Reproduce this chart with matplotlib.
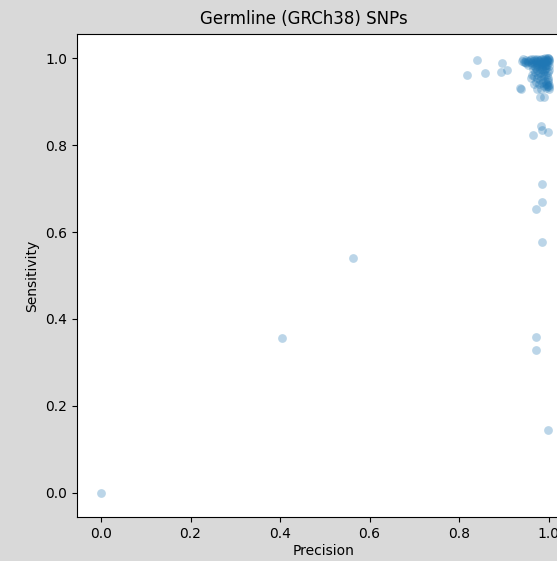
import matplotlib
matplotlib.use("Agg")
import matplotlib.pyplot as plt

# (precision, sensitivity) per submission
outlier_precision = [0.0, 0.404, 0.563, 0.818, 0.840, 0.858, 0.896, 0.894, 0.907, 0.936,
                     0.965, 0.983, 0.985, 0.998, 0.985, 0.985, 0.971, 0.985, 0.971, 0.971,
                     0.998, 0.981, 0.990, 0.938]
outlier_sensitivity = [0.0, 0.357, 0.541, 0.961, 0.995, 0.965, 0.988, 0.968, 0.972, 0.931,
                       0.823, 0.845, 0.834, 0.830, 0.711, 0.670, 0.654, 0.578, 0.359, 0.329,
                       0.144, 0.911, 0.911, 0.930]

band_precision = [0.940, 0.945, 0.950, 0.950, 0.955, 0.960, 0.960, 0.965, 0.968, 0.970,
                  0.972, 0.975, 0.978, 0.980, 0.982, 0.985, 0.987, 0.990, 0.992, 0.994,
                  0.996, 0.998, 1.000, 1.000, 0.999, 0.997, 0.993, 0.988, 0.983, 0.975,
                  0.962, 0.955, 0.943, 0.948, 0.953, 0.958, 0.963, 0.967, 0.971, 0.974,
                  0.977, 0.981, 0.984, 0.986, 0.989, 0.991, 0.995, 0.997, 1.000, 0.999]
band_sensitivity = [0.993, 0.990, 0.995, 0.988, 0.993, 0.990, 0.997, 0.994, 0.988, 0.996,
                    0.991, 0.998, 0.993, 0.987, 0.996, 0.991, 0.999, 0.995, 0.989, 0.998,
                    0.993, 1.000, 0.996, 0.990, 1.000, 0.985, 0.982, 0.984, 0.980, 0.982,
                    0.984, 0.985, 0.997, 0.992, 0.990, 0.995, 0.989, 0.998, 0.993, 0.987,
                    0.995, 0.992, 0.998, 0.986, 0.993, 1.000, 0.990, 0.996, 0.999, 0.993]

strip_precision = [0.965, 0.970, 0.975, 0.980, 0.985, 0.990, 0.995, 1.000, 0.968, 0.975,
                   0.982, 0.988, 0.993, 0.998, 0.972, 0.978, 0.985, 0.992, 0.997, 1.000,
                   0.999, 0.995, 0.990, 0.975, 0.983, 0.963, 0.970, 0.978, 0.986, 0.994,
                   1.000, 0.998, 0.960, 0.967, 0.999, 1.000, 0.973, 0.980, 0.988, 0.996,
                   0.977, 0.984, 0.991, 0.999, 0.987, 0.996, 0.994, 1.000]
strip_sensitivity = [0.975, 0.968, 0.972, 0.965, 0.975, 0.970, 0.978, 0.972, 0.958, 0.955,
                     0.950, 0.958, 0.962, 0.955, 0.945, 0.940, 0.942, 0.948, 0.940, 0.938,
                     0.935, 0.932, 0.935, 0.930, 0.928, 0.962, 0.980, 0.985, 0.980, 0.985,
                     0.982, 0.968, 0.955, 0.940, 0.945, 0.930, 0.978, 0.974, 0.966, 0.961,
                     0.962, 0.958, 0.975, 0.950, 0.945, 0.936, 0.940, 0.934]

precision = outlier_precision + band_precision + strip_precision
sensitivity = outlier_sensitivity + band_sensitivity + strip_sensitivity

fig = plt.figure(figsize=(5.57, 5.61), dpi=100, facecolor="#d9d9d9")
# the original is cropped on the right, so the axes run past the figure edge
ax = fig.add_axes([0.138, 0.078, 0.887, 0.861])
ax.scatter(precision, sensitivity, s=40, alpha=0.3, color="C0", linewidths=0)
ax.set_xlim(-0.054, 1.05)
ax.set_ylim(-0.056, 1.055)
ax.set_xticks([0.0, 0.2, 0.4, 0.6, 0.8, 1.0])
ax.set_yticks([0.0, 0.2, 0.4, 0.6, 0.8, 1.0])
ax.set_xlabel("Precision", labelpad=2)
ax.set_ylabel("Sensitivity")
ax.set_title("Germline (GRCh38) SNPs", x=0.46, pad=7)

fig.savefig("out.png", dpi=100, facecolor=fig.get_facecolor())
